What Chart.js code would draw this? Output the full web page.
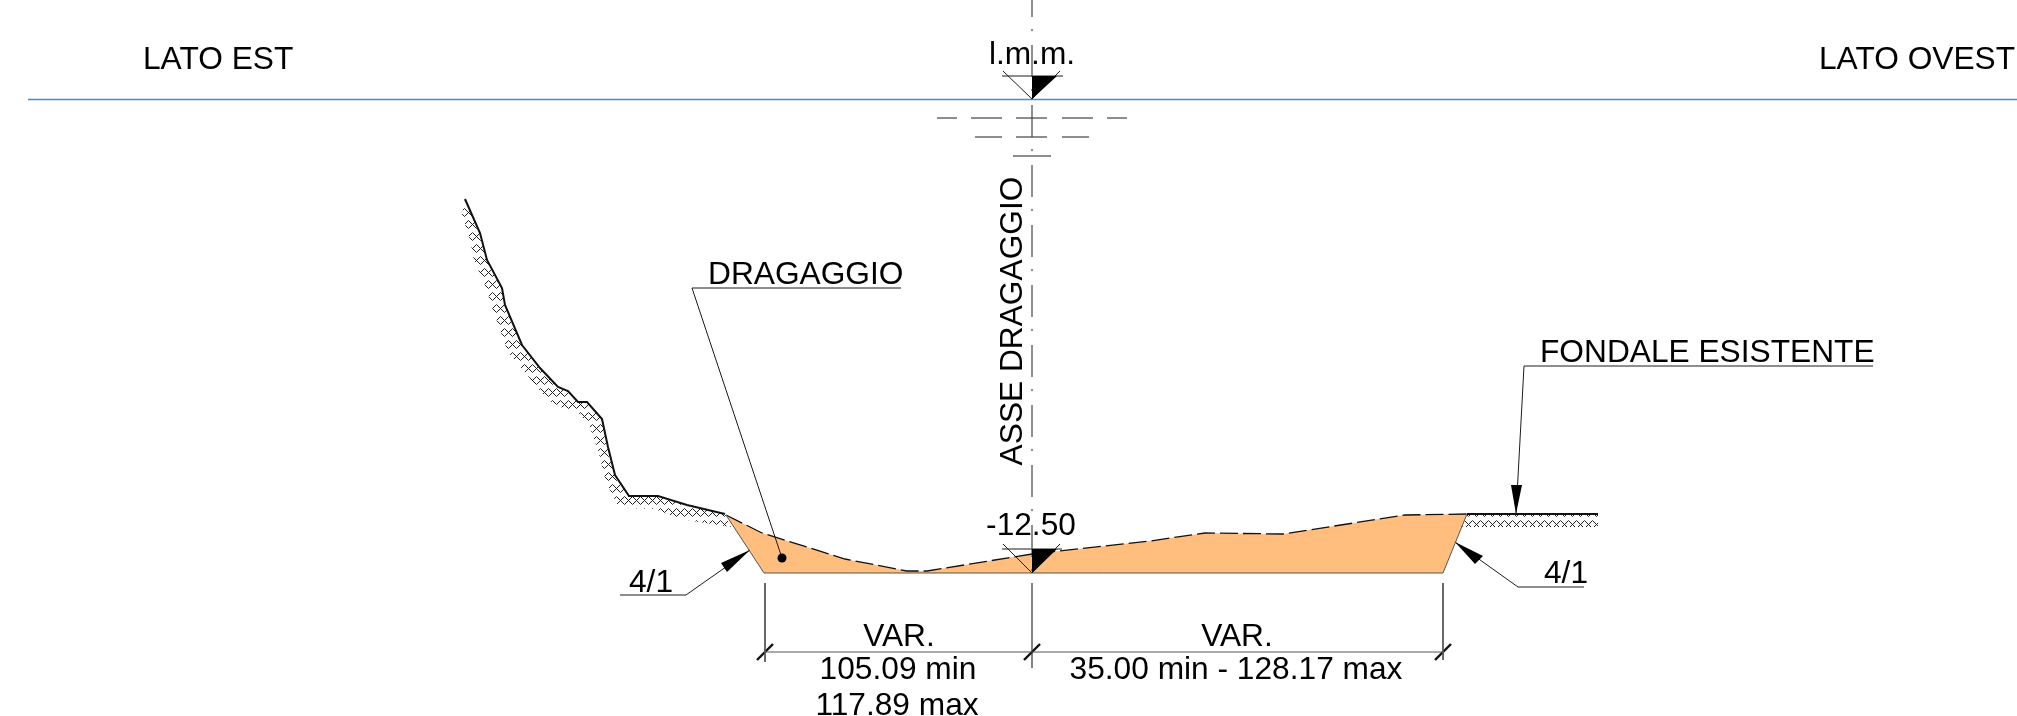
<!DOCTYPE html>
<html>
<head>
<meta charset="utf-8">
<title>Sezione dragaggio</title>
<script src="https://cdn.jsdelivr.net/npm/chart.js@4"></script>
<style>
  html, body { margin: 0; padding: 0; background: #fff; overflow: hidden; }
  canvas { display: block; }
</style>
</head>
<body>
<canvas id="chart" width="2017" height="716"></canvas>
<script>
// all values, [x, y] in drawing units
const seaLevel = [[28, 99.5], [2017, 99.5]];
const cliffProfile = [[465, 199], [480, 233], [487, 260], [502, 288], [505, 305], [522, 345], [540, 368], [558, 387],
  [568, 391], [578, 402], [587, 402], [602, 419], [608, 447], [615, 475], [629, 496], [658, 496], [687, 505], [725, 514]];
const cliffHatch = [[465, 199], [480, 233], [487, 260], [502, 288], [505, 305], [522, 345], [540, 368], [558, 387],
  [568, 391], [578, 402], [587, 402], [602, 419], [608, 447], [615, 475], [629, 496], [658, 496], [687, 505], [725, 514],
  [731, 527], [680, 519], [655, 509], [619, 508], [606, 482], [598, 450], [589, 425], [578, 412], [570, 412],
  [548, 400], [527, 375], [508, 352], [491, 305], [487, 290], [474, 260], [470, 240], [462, 215]];
const groundRight = [[1467, 514], [1598, 514]];
const groundRightHatch = [[1467, 514], [1598, 514], [1598, 527], [1462, 527]];
const dredgeTop = [[726, 515], [762, 533], [845, 559], [907, 571], [927, 571], [1032, 554], [1150, 541], [1205, 533],
  [1283, 534], [1405, 515], [1467, 514]];
const dredgeShape = [[726, 515], [762, 533], [845, 559], [907, 571], [927, 571], [1032, 554], [1150, 541], [1205, 533],
  [1283, 534], [1405, 515], [1467, 514], [1443, 573], [764, 573]];
const dredgeBottom = [[726, 515], [764, 573], [1443, 573], [1467, 514]];
const centreLine = [[1032, 0], [1032, 573]];
const centreLineLow = [[1032, 583], [1032, 668]];
const waterDashes = [
  [[937, 118], [957, 118]], [[971, 118], [1002, 118]], [[1016, 118], [1047, 118]], [[1062, 118], [1093, 118]], [[1107, 118], [1127, 118]],
  [[975, 137], [1002, 137]], [[1016, 137], [1047, 137]], [[1062, 137], [1089, 137]],
  [[1013, 156], [1051, 156]]
];
const levelMarks = [
  [[1002, 76], [1063, 76]], [[1003, 71], [1032, 99], [1060, 71]],
  [[1002, 549], [1062, 549]], [[1003, 544], [1032, 573], [1060, 544]]
];
const levelFills = [
  [[1032, 76], [1057, 76], [1032, 99]],
  [[1032, 549], [1057, 549], [1032, 573]]
];
const leaders = [
  [[901, 288], [692, 288], [782, 558]],
  [[1873, 366], [1524, 366], [1516, 514]],
  [[1584, 587], [1518, 587], [1455, 542]],
  [[620, 595], [686, 595], [750, 550]]
];
const arrowHeads = [
  [[1516, 514], [1511, 485], [1522, 485]],
  [[1455, 542], [1483, 556], [1475, 564]],
  [[750, 550], [721, 563], [727, 572]]
];
const leaderDot = [[782, 558]];
const dimensionLines = [
  [[765, 652], [1443, 652]],
  [[765, 583], [765, 662]],
  [[1443, 583], [1443, 660]]
];
const dimensionTicks = [
  [[757, 660], [773, 644]],
  [[1024, 660], [1040, 644]],
  [[1435, 660], [1451, 644]]
];
const labels = [
  ['LATO EST', 143, 69, 'left'],
  ['LATO OVEST', 1819, 69, 'left'],
  ['l.m.m.', 1032, 64, 'center'],
  ['DRAGAGGIO', 708, 284, 'left'],
  ['FONDALE ESISTENTE', 1540, 362, 'left'],
  ['-12.50', 1031, 535, 'center'],
  ['4/1', 629, 592, 'left'],
  ['4/1', 1544, 583, 'left'],
  ['VAR.', 899, 646, 'center'],
  ['VAR.', 1237, 646, 'center'],
  ['105.09 min', 898, 679, 'center'],
  ['117.89 max', 897, 715, 'center'],
  ['35.00 min - 128.17 max', 1236, 679, 'center']
];
const verticalLabel = ['ASSE DRAGAGGIO', 1022, 321];

const ink = '#1c1c1c';

function pts(list) {
  return list.map(p => ({ x: p[0], y: p[1] }));
}
function stroke(list, width, color, extra) {
  return Object.assign({ data: pts(list), showLine: true, fill: false, pointRadius: 0, borderWidth: width, borderColor: color, order: 1 }, extra);
}
function shape(list, background, order) {
  return { data: pts(list), showLine: true, fill: 'shape', pointRadius: 0, borderWidth: 0, borderColor: 'transparent', backgroundColor: background, order: order };
}

// herringbone tile for the ground hatch
function hatchPattern() {
  const a = 8;
  const u = a / Math.SQRT2;
  const tile = document.createElement('canvas');
  tile.width = a;
  tile.height = a * 3;
  const c = tile.getContext('2d');
  c.strokeStyle = '#222';
  c.lineWidth = 1;
  const map = (p, q) => [(p + q) * u / Math.SQRT2 + 0.5, (q - p) * u / Math.SQRT2 + 0.5];
  const seg = (p1, q1, p2, q2) => {
    const s = map(p1, q1), e = map(p2, q2);
    c.beginPath();
    c.moveTo(s[0], s[1]);
    c.lineTo(e[0], e[1]);
    c.stroke();
  };
  for (let k = -20; k <= 20; k++) {
    for (let m = -8; m <= 8; m++) {
      seg(k + 3 * m, k, k + 2 + 3 * m, k);
      seg(k + 3 * m, k, k + 3 * m, k - 2);
    }
  }
  return c.createPattern(tile, 'repeat');
}
const hatch = hatchPattern();

const datasets = [
  shape(dredgeShape, '#FFBD7E', 5),
  shape(cliffHatch, hatch, 5),
  shape(groundRightHatch, hatch, 5),
  stroke(seaLevel, 1.5, '#3D8FE6', { order: 3 }),
  stroke(centreLine, 1.2, '#444', { borderDash: [32, 12, 2, 14], borderDashOffset: 15 }),
  stroke(centreLineLow, 1.2, '#333'),
  stroke(cliffProfile, 2, '#111'),
  stroke(groundRight, 2, '#111'),
  stroke(dredgeBottom, 1, '#555'),
  stroke(dredgeTop, 1.3, '#111', { borderDash: [18, 5] })
];
waterDashes.concat(levelMarks, leaders).forEach(l => datasets.push(stroke(l, 1, ink)));
dimensionLines.forEach(l => datasets.push(stroke(l, 1, '#555')));
dimensionTicks.forEach(l => datasets.push(stroke(l, 2.4, '#111')));
levelFills.concat(arrowHeads).forEach(l => datasets.push(shape(l, '#000', 0)));
datasets.push({ data: pts(leaderDot), showLine: false, pointRadius: 4.5, pointBackgroundColor: '#000', pointBorderWidth: 0, order: 0 });

const textPlugin = {
  id: 'drawingText',
  afterDatasetsDraw(chart) {
    const ctx = chart.ctx;
    const sx = chart.scales.x, sy = chart.scales.y;
    ctx.save();
    ctx.fillStyle = '#000';
    ctx.font = '31.7px "Liberation Sans", Arial, sans-serif';
    ctx.textBaseline = 'alphabetic';
    labels.forEach(l => {
      ctx.textAlign = l[3];
      ctx.fillText(l[0], sx.getPixelForValue(l[1]), sy.getPixelForValue(l[2]));
    });
    ctx.translate(sx.getPixelForValue(verticalLabel[1]), sy.getPixelForValue(verticalLabel[2]));
    ctx.rotate(-Math.PI / 2);
    ctx.textAlign = 'center';
    ctx.fillText(verticalLabel[0], 0, 0);
    ctx.restore();
  }
};

new Chart(document.getElementById('chart'), {
  type: 'scatter',
  data: { datasets: datasets },
  plugins: [textPlugin],
  options: {
    responsive: false,
    animation: false,
    layout: { padding: 0, autoPadding: false },
    plugins: { legend: { display: false }, tooltip: { enabled: false } },
    scales: {
      x: { type: 'linear', display: false, min: 0, max: 2017 },
      y: { type: 'linear', display: false, min: 0, max: 716, reverse: true }
    }
  }
});
</script>
</body>
</html>
